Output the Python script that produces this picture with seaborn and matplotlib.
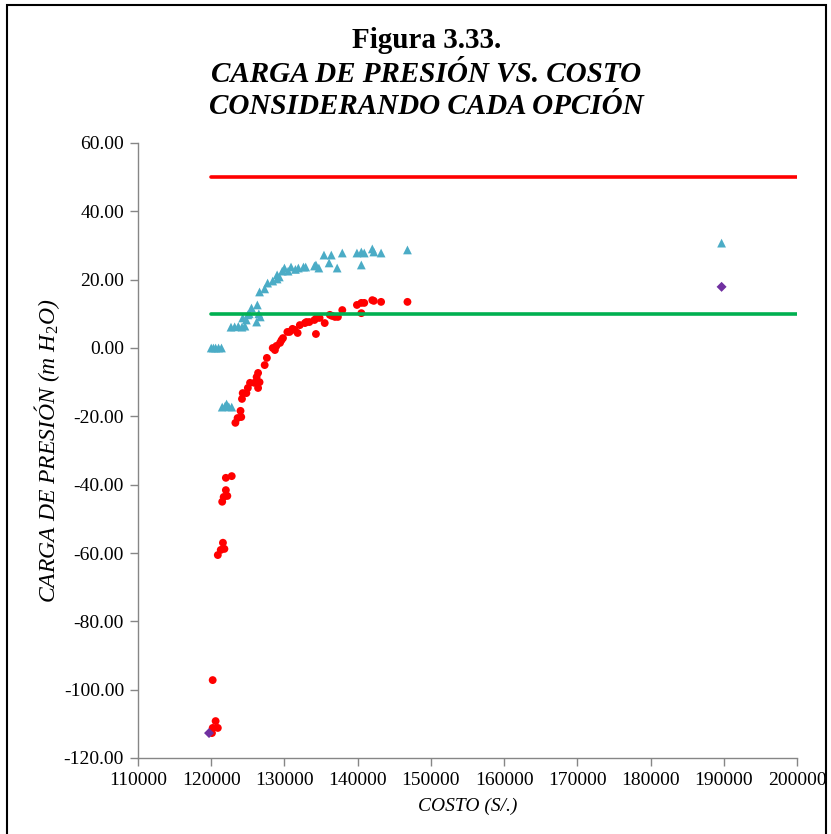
import matplotlib
matplotlib.use("Agg")
import matplotlib.pyplot as plt
from matplotlib.patches import Rectangle
from matplotlib.ticker import FormatStrFormatter
import seaborn as sns
import pandas as pd

# ---- data ----
tri_cost = [120000, 120300, 120600, 121000, 121400,
            121500, 121900, 122100, 122400, 122800,
            122700, 123200, 123700, 124200, 124600,
            124300, 124800, 125000, 125200, 125500, 126200, 126300, 126500, 126700,
            126600, 127300, 127700, 128400, 129000, 129300, 129000, 129700, 130000,
            130500, 130900, 131500, 131900, 132600, 132900, 134100, 134300, 134700,
            135400, 136100, 136400, 137200, 137900, 139900, 140500, 140900, 140500,
            142000, 142200, 143200, 146800, 189700]
tri_pres = [0.0, 0.0, 0.0, 0.0, 0.0,
            -17.3, -17.0, -16.4, -17.2, -17.3,
            6.1, 6.2, 6.3, 6.1, 6.4,
            8.8, 8.2, 9.7, 10.0, 11.7, 7.6, 12.6, 10.0, 9.1,
            16.4, 17.3, 19.0, 19.6, 20.2, 20.8, 21.4, 22.5, 23.4,
            22.5, 23.7, 23.0, 23.4, 23.7, 23.7, 24.0, 24.3, 23.4,
            27.2, 24.9, 27.2, 23.4, 27.8, 27.8, 28.1, 27.8, 24.3,
            29.0, 28.1, 27.8, 28.7, 30.7]

circ_cost = [120200, 120600, 120900, 120200, 120100,
             120900, 121300, 121600, 121800,
             121500, 121700, 122200, 122000, 122000, 122800,
             123300, 123600, 124100, 124000, 124200, 124300, 124800, 125000, 125300,
             125900, 126400, 126600, 126200, 126400, 127300, 127600, 128400, 128700,
             128900, 129400, 129600, 129800, 130400, 130700, 131100, 131400, 131800,
             132100, 132800, 133000, 133400, 134100, 134300, 134400, 134800, 135500,
             136200, 136500, 136900, 137300, 137900, 139900, 140500, 140900, 140500,
             142000, 142200, 143200, 146800]
circ_pres = [-97.2, -109.2, -111.2, -111.2, -112.7,
             -60.6, -59.1, -57.0, -58.8,
             -45.0, -43.6, -43.3, -41.6, -38.0, -37.5,
             -21.9, -20.5, -20.2, -18.4, -14.9, -13.2, -13.2, -11.7, -10.2,
             -10.2, -11.7, -10.0, -8.5, -7.3, -5.0, -2.9, 0.0, -0.6,
             0.6, 1.5, 2.3, 2.9, 4.7, 4.7, 5.6, 5.3, 4.4,
             6.7, 7.3, 7.6, 7.6, 8.2, 4.1, 8.8, 8.8, 7.3,
             9.7, 9.4, 9.1, 9.1, 11.1, 12.6, 13.2, 13.2, 10.2,
             14.0, 13.8, 13.5, 13.5]

dia_cost = [119700, 189700]
dia_pres = [-112.7, 17.9]

line_cost = [120000, 200000]
max_pres = [50.0, 50.0]
min_pres = [10.0, 10.0]

x_ticks = [110000, 120000, 130000, 140000, 150000, 160000, 170000, 180000, 190000, 200000]
y_ticks = [-120, -100, -80, -60, -40, -20, 0, 20, 40, 60]

title_lines = ["Figura 3.33.", "CARGA DE PRESIÓN VS. COSTO", "CONSIDERANDO CADA OPCIÓN"]

# ---- style ----
sns.set_style("white")
plt.rcParams['font.family'] = ['Liberation Serif', 'DejaVu Serif']
plt.rcParams['axes.unicode_minus'] = False
plt.rcParams['text.color'] = 'black'
plt.rcParams['axes.labelcolor'] = 'black'
plt.rcParams['mathtext.fontset'] = 'custom'
plt.rcParams['mathtext.rm'] = 'Liberation Serif'
plt.rcParams['mathtext.it'] = 'Liberation Serif:italic'
plt.rcParams['mathtext.bf'] = 'Liberation Serif:bold'

fig = plt.figure(figsize=(8.31, 8.34), dpi=100)
ax = fig.add_axes([138/831, 1-758/834, (797-138)/831, (758-143)/834])

sns.scatterplot(x=tri_cost, y=tri_pres, marker="^", s=40, color="#4BACC6",
                edgecolor="none", linewidth=0, ax=ax, zorder=3)
sns.scatterplot(x=circ_cost, y=circ_pres, marker="o", s=32, color="#FF0000",
                edgecolor="none", linewidth=0, ax=ax, zorder=3)
sns.scatterplot(x=dia_cost, y=dia_pres, marker="D", s=26, color="#7030A0",
                edgecolor="none", linewidth=0, ax=ax, zorder=3)
sns.lineplot(x=line_cost, y=max_pres, color="#FF0000", linewidth=2.6, ax=ax, zorder=4)
sns.lineplot(x=line_cost, y=min_pres, color="#00B050", linewidth=2.6, ax=ax, zorder=4)

ax.set_xlim(110000, 200000)
ax.set_ylim(-120, 60)
ax.set_xticks(x_ticks)
ax.set_yticks(y_ticks)
ax.yaxis.set_major_formatter(FormatStrFormatter('%.2f'))
ax.tick_params(axis='both', which='major', direction='out', length=6, width=1,
               color='#868686', labelsize=14, labelcolor='black', pad=4, bottom=True, left=True)
for s in ['top', 'right']:
    ax.spines[s].set_visible(False)
for s in ['left', 'bottom']:
    ax.spines[s].set_color('#868686')
    ax.spines[s].set_linewidth(1.0)

ax.set_xlabel("COSTO (S/.)", fontsize=14, fontstyle='italic', labelpad=6, color='black')
ax.set_ylabel(r"CARGA DE PRESIÓN (m H$_2$O)", fontsize=17, fontstyle='italic',
              labelpad=1, color='black')

fig.text(0.513, 1-40/834, title_lines[0], ha='center', va='center', fontsize=21,
         fontweight='bold', color='black')
fig.text(0.513, 1-74/834, title_lines[1], ha='center', va='center', fontsize=21,
         fontweight='bold', fontstyle='italic', color='black')
fig.text(0.513, 1-107/834, title_lines[2], ha='center', va='center', fontsize=21,
         fontweight='bold', fontstyle='italic', color='black')

fig.patches.append(Rectangle((7/831, -0.01), (826-7)/831, 1-5/834+0.01, transform=fig.transFigure,
                             fill=False, edgecolor='black', linewidth=1.5))

fig.savefig("out.png", dpi=100)
